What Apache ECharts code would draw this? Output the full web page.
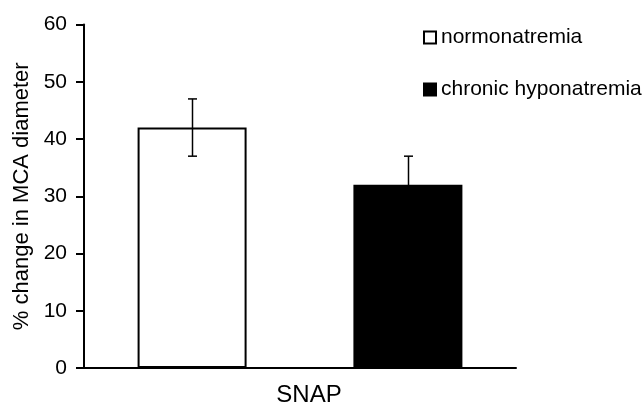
<!DOCTYPE html>
<html>
<head>
<meta charset="utf-8">
<script src="https://cdn.jsdelivr.net/npm/echarts@6/dist/echarts.min.js"></script>
<style>
html,body{margin:0;padding:0;background:#fff;}
#chart{width:643px;height:404px;}
</style>
</head>
<body>
<div id="chart"></div>
<script>
var categories = ['SNAP'];
var seriesNames = ['normonatremia', 'chronic hyponatremia'];
var means = [42, 32];
var errors = [5, 5];
var yTicks = [0, 10, 20, 30, 40, 50, 60];

var fills = ['#ffffff', '#000000'];
var FONT = '"Liberation Sans", Arial, sans-serif';

var chart = echarts.init(document.getElementById('chart'), null, {renderer: 'canvas'});

var series = [];
seriesNames.forEach(function (name, i) {
  series.push({
    name: name,
    type: 'bar',
    data: [means[i]],
    barWidth: 109,
    barGap: '98%',
    itemStyle: {color: fills[i], borderColor: '#000', borderWidth: 2},
    emphasis: {disabled: true},
    silent: true,
    z: 2
  });
});
seriesNames.forEach(function (name, i) {
  series.push({
    type: 'custom',
    silent: true,
    z: 5,
    data: [[0, means[i] - errors[i], means[i] + errors[i]]],
    renderItem: function (params, api) {
      var band = api.size([1, 0])[0];
      var off = (i === 0 ? -1 : 1) * band / 4;
      var lo = api.coord([api.value(0), api.value(1)]);
      var hi = api.coord([api.value(0), api.value(2)]);
      var x = Math.round(lo[0] + off) + 0.5;
      var cap = 4.5;
      var st = {stroke: '#000', lineWidth: 1.5};
      return {
        type: 'group',
        children: [
          {type: 'line', shape: {x1: x, y1: lo[1], x2: x, y2: hi[1]}, style: st},
          {type: 'line', shape: {x1: x - cap, y1: hi[1], x2: x + cap, y2: hi[1]}, style: st},
          {type: 'line', shape: {x1: x - cap, y1: lo[1], x2: x + cap, y2: lo[1]}, style: st}
        ]
      };
    }
  });
});

chart.setOption({
  animation: false,
  backgroundColor: '#fff',
  grid: {left: 84, right: 127, top: 24.5, bottom: 36, containLabel: false, outerBoundsMode: 'none'},
  legend: {
    data: seriesNames,
    orient: 'vertical',
    left: 423,
    top: 27,
    padding: 0,
    icon: 'rect',
    itemWidth: 12,
    itemHeight: 12,
    itemGap: 31,
    selectedMode: false,
    textStyle: {fontFamily: FONT, fontSize: 21, color: '#000', padding: [0, 0, 0, 0]}
  },
  xAxis: {
    type: 'category',
    data: categories,
    axisLine: {lineStyle: {color: '#000', width: 2}},
    axisTick: {show: false},
    axisLabel: {fontFamily: FONT, fontSize: 24, color: '#000', margin: 15, padding: [0, 0, 0, 18]}
  },
  yAxis: {
    type: 'value',
    min: yTicks[0],
    max: yTicks[yTicks.length - 1],
    interval: 10,
    name: '% change in MCA diameter',
    nameLocation: 'middle',
    nameGap: 51,
    nameTextStyle: {fontFamily: FONT, fontSize: 22, color: '#000'},
    axisLine: {show: true, lineStyle: {color: '#000', width: 2}},
    axisTick: {show: true, length: 8, lineStyle: {color: '#000', width: 2}},
    splitLine: {show: false},
    axisLabel: {fontFamily: FONT, fontSize: 21, color: '#000', margin: 17}
  },
  series: series
});
</script>
</body>
</html>
